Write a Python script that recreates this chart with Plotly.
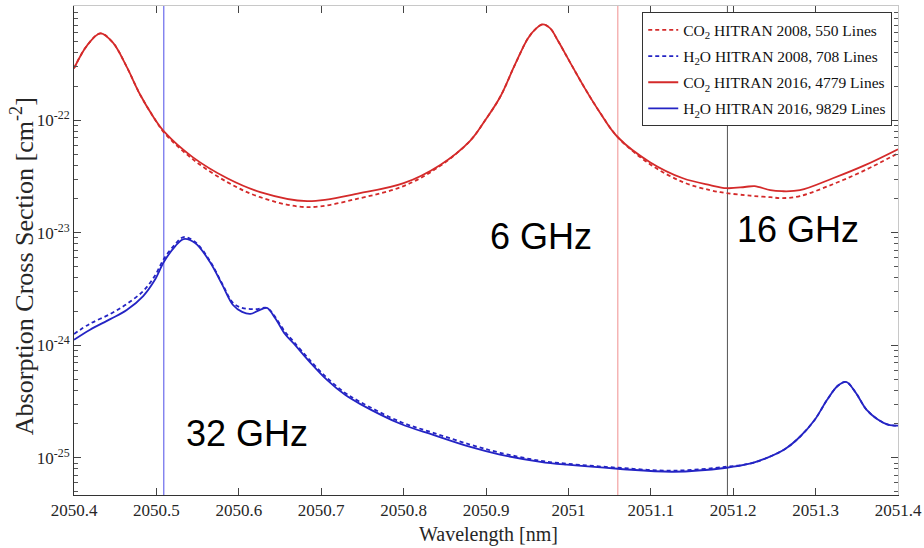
import plotly.graph_objects as go

# ---- data (wavelength in nm, cross section in cm^2) ----
co2_wl = [2050.400, 2050.416, 2050.432, 2050.447, 2050.464, 2050.480, 2050.496, 2050.510,
          2050.544, 2050.586, 2050.626, 2050.683, 2050.747, 2050.800, 2050.844, 2050.881,
          2050.899, 2050.917, 2050.935, 2050.951, 2050.961, 2050.969, 2050.978, 2050.987,
          2051.002, 2051.020, 2051.038, 2051.060, 2051.099, 2051.139, 2051.172, 2051.192,
          2051.214, 2051.226, 2051.245, 2051.259, 2051.281, 2051.321, 2051.360, 2051.400]
co2_2016 = [2.89e-22, 4.63e-22, 5.92e-22, 4.92e-22, 2.98e-22, 1.70e-22, 1.08e-22, 7.83e-23,
            4.70e-23, 3.05e-23, 2.30e-23, 1.91e-23, 2.25e-23, 2.76e-23, 3.99e-23, 6.60e-23,
            1.00e-22, 1.60e-22, 3.10e-22, 5.35e-22, 6.55e-22, 7.11e-22, 6.55e-22, 5.13e-22,
            3.27e-22, 1.92e-22, 1.18e-22, 7.06e-23, 4.24e-23, 3.05e-23, 2.65e-23, 2.49e-23,
            2.55e-23, 2.60e-23, 2.39e-23, 2.34e-23, 2.39e-23, 3.05e-23, 3.99e-23, 5.53e-23]
co2_2008 = [2.89e-22, 4.63e-22, 5.92e-22, 4.92e-22, 2.98e-22, 1.70e-22, 1.08e-22, 7.67e-23,
            4.51e-23, 2.82e-23, 2.07e-23, 1.69e-23, 2.03e-23, 2.60e-23, 3.91e-23, 6.60e-23,
            1.00e-22, 1.60e-22, 3.10e-22, 5.35e-22, 6.55e-22, 7.11e-22, 6.55e-22, 5.13e-22,
            3.27e-22, 1.92e-22, 1.18e-22, 7.06e-23, 4.07e-23, 2.82e-23, 2.39e-23, 2.25e-23,
            2.16e-23, 2.12e-23, 2.07e-23, 2.03e-23, 2.12e-23, 2.70e-23, 3.60e-23, 5.09e-23]

h2o_wl = [2050.400, 2050.419, 2050.444, 2050.464, 2050.484, 2050.498, 2050.509, 2050.523,
          2050.533, 2050.547, 2050.565, 2050.580, 2050.593, 2050.604, 2050.614, 2050.623,
          2050.634, 2050.644, 2050.656, 2050.666, 2050.686, 2050.707, 2050.729, 2050.747,
          2050.796, 2050.836, 2050.881, 2050.917, 2050.966, 2050.998, 2051.060, 2051.127,
          2051.192, 2051.220, 2051.241, 2051.263, 2051.281, 2051.299, 2051.314, 2051.327,
          2051.337, 2051.348, 2051.362, 2051.376, 2051.388, 2051.400]
h2o_2016 = [1.12e-24, 1.37e-24, 1.71e-24, 2.06e-24, 2.74e-24, 3.80e-24, 5.50e-24, 7.62e-24,
            8.79e-24, 8.11e-24, 5.50e-24, 3.44e-24, 2.28e-24, 1.98e-24, 1.90e-24, 2.02e-24,
            2.15e-24, 1.75e-24, 1.26e-24, 1.05e-24, 7.13e-25, 4.93e-25, 3.63e-25, 3.02e-25,
            2.01e-25, 1.60e-25, 1.25e-25, 1.07e-25, 9.23e-26, 8.69e-26, 8.00e-26, 7.53e-26,
            8.17e-26, 8.87e-26, 1.00e-25, 1.20e-25, 1.54e-25, 2.18e-25, 3.28e-25, 4.37e-25,
            4.73e-25, 3.86e-25, 2.67e-25, 2.18e-25, 1.97e-25, 1.93e-25]
h2o_2008 = [1.26e-24, 1.55e-24, 1.90e-24, 2.33e-24, 3.04e-24, 4.13e-24, 5.85e-24, 7.94e-24,
            9.16e-24, 8.28e-24, 5.61e-24, 3.51e-24, 2.38e-24, 2.15e-24, 2.10e-24, 2.10e-24,
            2.15e-24, 1.79e-24, 1.32e-24, 1.09e-24, 7.41e-25, 5.14e-25, 3.78e-25, 3.15e-25,
            2.09e-25, 1.67e-25, 1.31e-25, 1.11e-25, 9.42e-26, 8.87e-26, 8.17e-26, 7.69e-26,
            8.34e-26, 8.87e-26, 1.00e-25, 1.20e-25, 1.54e-25, 2.18e-25, 3.28e-25, 4.37e-25,
            4.73e-25, 3.86e-25, 2.67e-25, 2.18e-25, 1.97e-25, 1.93e-25]

marker_wl = [2050.509, 2051.060, 2051.193]
marker_colors = ["#4c4ce8", "#f09090", "#555555"]

x_ticks = [2050.4, 2050.5, 2050.6, 2050.7, 2050.8, 2050.9, 2051.0, 2051.1, 2051.2, 2051.3, 2051.4]
x_ticklabels = ["2050.4", "2050.5", "2050.6", "2050.7", "2050.8", "2050.9", "2051",
                "2051.1", "2051.2", "2051.3", "2051.4"]
y_ticks = [1e-25, 1e-24, 1e-23, 1e-22]
y_ticklabels = ["10<sup>-25</sup>", "10<sup>-24</sup>", "10<sup>-23</sup>", "10<sup>-22</sup>"]
decades = [1e-26, 1e-25, 1e-24, 1e-23, 1e-22]
mantissas = [2, 3, 4, 5, 6, 7, 8, 9]

x_title = "Wavelength [nm]"
y_title = "Absorption Cross Section [cm<sup>-2</sup>]"

ann_text = ["6 GHz", "16 GHz", "32 GHz"]
ann_x = [2050.967, 2051.279, 2050.610]
ann_logy = [-23.03, -22.975, -24.785]

RED = "#d42a2a"
BLUE = "#2424c4"
SERIF = "Liberation Serif, Times New Roman, serif"

minor_vals = [m * d for d in decades for m in mantissas]

fig = go.Figure()
specs = [
    (co2_wl, co2_2008, RED, "4px,3px", "CO<sub>2</sub> HITRAN 2008, 550 Lines"),
    (h2o_wl, h2o_2008, BLUE, "4px,3px", "H<sub>2</sub>O HITRAN 2008, 708 Lines"),
    (co2_wl, co2_2016, RED, "solid", "CO<sub>2</sub> HITRAN 2016, 4779 Lines"),
    (h2o_wl, h2o_2016, BLUE, "solid", "H<sub>2</sub>O HITRAN 2016, 9829 Lines"),
]
for i, (xs, ys, col, dash, name) in enumerate(specs):
    fig.add_trace(go.Scatter(x=xs, y=ys, mode="lines", name=name, legendgroup=f"g{i}",
                             line=dict(color=col, width=1.8, dash=dash, shape="spline", smoothing=1.0)))

for wl, c in zip(marker_wl, marker_colors):
    fig.add_shape(type="line", xref="x", yref="paper", x0=wl, x1=wl, y0=0, y1=1,
                  line=dict(color=c, width=1), layer="below")

for t, ax_, ay_ in zip(ann_text, ann_x, ann_logy):
    fig.add_annotation(x=ax_, y=ay_, xref="x", yref="y", text=t, showarrow=False,
                       font=dict(family="Liberation Sans, Arial, sans-serif", size=36, color="black"),
                       xanchor="center", yanchor="middle")

# axis titles
fig.add_annotation(x=0.5036, y=-0.08, xref="paper", yref="paper", text=x_title, showarrow=False,
                   font=dict(family=SERIF, size=20, color="#262626"), xanchor="center", yanchor="middle")
fig.add_annotation(x=-0.0631, y=0.468, xref="paper", yref="paper", text=y_title, showarrow=False,
                   textangle=-90, font=dict(family=SERIF, size=26, color="#262626"),
                   xanchor="center", yanchor="middle")

yrange = [-25.33, -20.985]
xrange = [2050.4, 2051.4]

fig.update_layout(
    width=924, height=548,
    margin=dict(l=74, r=26, t=6, b=53),
    paper_bgcolor="white", plot_bgcolor="white",
    font=dict(family=SERIF, size=17, color="#262626"),
    showlegend=True,
    legend=dict(x=0.993, y=0.987, xanchor="right", yanchor="top",
                bgcolor="white", bordercolor="#333333", borderwidth=1,
                font=dict(family=SERIF, size=15.5, color="#111111"),
                tracegroupgap=3, itemwidth=30, traceorder="grouped"),
    xaxis=dict(range=xrange, tickvals=x_ticks, ticktext=x_ticklabels, automargin=False,
               ticks="inside", ticklen=7, tickcolor="#444", showline=True, linecolor="#333",
               linewidth=1, showgrid=False, zeroline=False),
    yaxis=dict(type="log", range=yrange, tickvals=y_ticks, ticktext=y_ticklabels, automargin=False,
               ticks="inside", ticklen=7, tickcolor="#444", showline=True, linecolor="#333",
               linewidth=1, showgrid=False, zeroline=False,
               minor=dict(tickvals=minor_vals, ticks="inside", ticklen=4, tickcolor="#555", showgrid=False)),
    xaxis2=dict(range=xrange, overlaying="x", side="top", tickvals=x_ticks, showticklabels=False,
                ticks="inside", ticklen=7, tickcolor="#444", showline=True, linecolor="#c8c8c8",
                showgrid=False, zeroline=False, automargin=False),
    yaxis2=dict(type="log", range=yrange, overlaying="y", side="right", tickvals=y_ticks,
                showticklabels=False, ticks="inside", ticklen=7, tickcolor="#444", automargin=False,
                showline=True, linecolor="#c8c8c8", showgrid=False, zeroline=False,
                minor=dict(tickvals=minor_vals, ticks="inside", ticklen=4, tickcolor="#555", showgrid=False)),
)
# invisible trace to anchor the mirrored axes
fig.add_trace(go.Scatter(x=[xrange[0]], y=[1e-24], xaxis="x2", yaxis="y2", mode="markers",
                         marker=dict(opacity=0), showlegend=False, hoverinfo="skip"))

fig.write_html("out.html", config={"displayModeBar": False},
               post_script="document.body.style.margin='0';")
